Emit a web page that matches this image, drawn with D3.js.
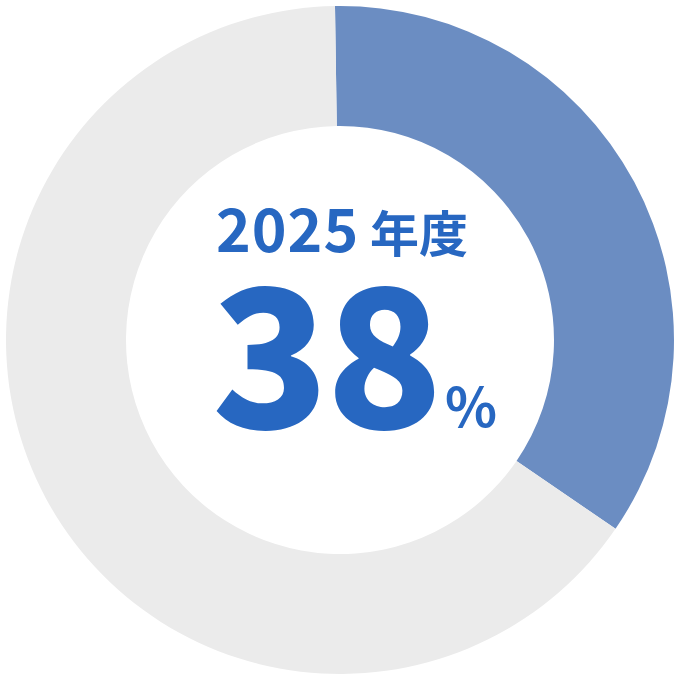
<!DOCTYPE html>
<meta charset="utf-8">
<style>
body { margin: 0; background: #fff; }
svg { display: block; }
.label { fill: #2767c1; font-family: "Noto Sans CJK JP", "Noto Sans", sans-serif; }
</style>
<html>
  <head>
    <script type="text/javascript" src="https://cdn.jsdelivr.net/npm/d3@7/dist/d3.min.js"></script>
  </head>
  <body>
    <script type="text/javascript">
// donut data: share drawn as the coloured arc, rest in grey
var categories = ["2025年度", "残り"]
  , values = [34.8, 65.2]
  , colors = ["#6b8dc2", "#ebebeb"]
  , yearLabel = "2025"
  , yearUnit = "年度"
  , bigValue = "38"
  , bigUnit = "%"

var width = 680
  , height = 680
  , cx = 340
  , cy = 340
  , outerR = 334
  , innerR = 214

var svg = d3.select("body")
        .append("svg")
        .attr("width", width)
        .attr("height", height);

var g = svg.append("g")
        .attr("transform", "translate(" + cx + "," + cy + ")");

var pie = d3.pie()
        .sort(null)
        .startAngle(-0.015)
        .endAngle(2 * Math.PI - 0.015);

var arc = d3.arc()
        .innerRadius(innerR)
        .outerRadius(outerR);

g.selectAll("path")
    .data(pie(values))
    .enter().append("path")
    .attr("d", arc)
    .attr("fill", function(d, i) { return colors[i]; });

// centre labels, each its own text so they never overlap
g.append("text")
    .attr("class", "label")
    .attr("x", -124)
    .attr("y", -88)
    .attr("font-size", 59)
    .attr("font-weight", 700)
    .attr("letter-spacing", 1)
    .text(yearLabel);

g.append("text")
    .attr("class", "label")
    .attr("x", 30)
    .attr("y", -88)
    .attr("font-size", 49)
    .attr("font-weight", 700)
    .text(yearUnit);

g.append("text")
    .attr("class", "label")
    .attr("x", -128)
    .attr("y", 88)
    .attr("font-size", 192)
    .attr("font-weight", 900)
    .attr("letter-spacing", -3)
    .text(bigValue);

g.append("text")
    .attr("class", "label")
    .attr("x", 105)
    .attr("y", 87)
    .attr("font-size", 54)
    .attr("font-weight", 700)
    .text(bigUnit);
    </script>
  </body>
</html>
